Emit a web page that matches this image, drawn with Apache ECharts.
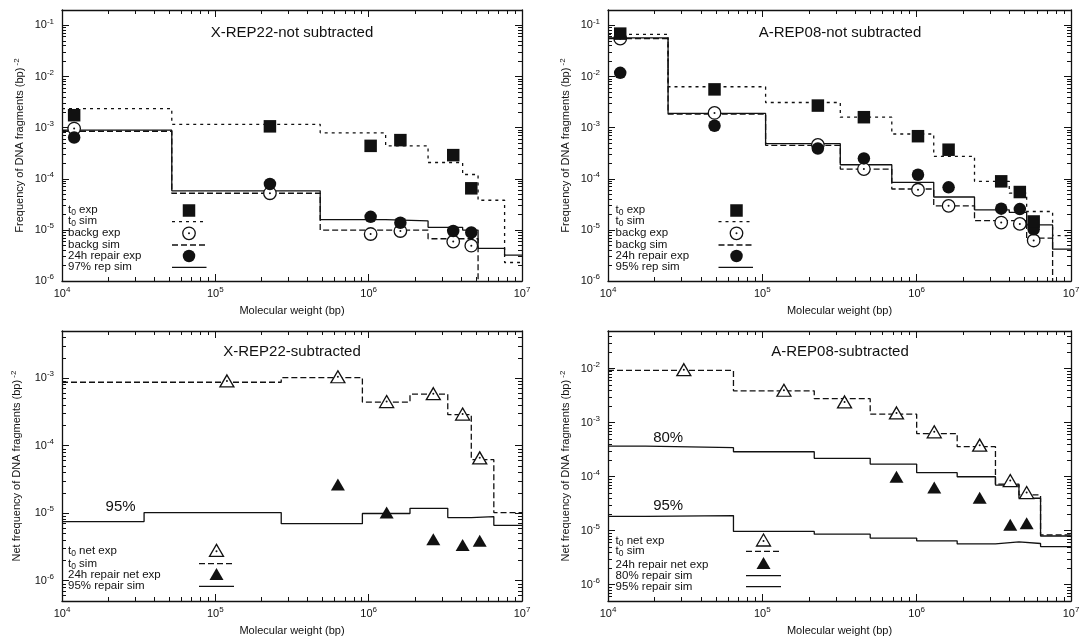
<!DOCTYPE html>
<html>
<head>
<meta charset="utf-8">
<script src="https://cdn.jsdelivr.net/npm/echarts@6/dist/echarts.min.js"></script>
<style>
  html, body { margin: 0; padding: 0; background: #ffffff; }
  #chart { width: 1083px; height: 638px; }
</style>
</head>
<body>
<div id="chart"></div>
<script>
// ---------- tick values ----------
const xMajorTicks = [1e4, 1e5, 1e6, 1e7];
const yMajorTicksTop = [1e-6, 1e-5, 1e-4, 1e-3, 1e-2, 1e-1];
const yMajorTicksBL = [1e-6, 1e-5, 1e-4, 1e-3];
const yMajorTicksBR = [1e-6, 1e-5, 1e-4, 1e-3, 1e-2];

// ---------- X-REP22, not subtracted ----------
const xrepExpX   = [1.2e4, 2.27e5, 1.03e6, 1.61e6, 3.56e6, 4.67e6];
const xrepT0Exp  = [1.75e-3, 1.06e-3, 4.4e-4, 5.7e-4, 2.9e-4, 6.5e-5];
const xrepBgExp  = [9.6e-4, 5.2e-5, 8.3e-6, 9.5e-6, 5.9e-6, 4.9e-6];
const xrepRepExp = [6.4e-4, 7.9e-5, 1.8e-5, 1.38e-5, 9.5e-6, 8.9e-6];
const xrepEdges  = [1e4, 5.2e4, 4.83e5, 1.29e6, 2.44e6, 4.1e6, 5.17e6, 7.7e6, 1e7];
const xrepT0Sim  = [2.36e-3, 1.16e-3, 7.9e-4, 4.4e-4, 2.08e-4, 1.21e-4, 3.8e-5, 2.3e-6];
const xrepBgSim  = [8.5e-4, 5.2e-5, 9.9e-6, 9.9e-6, 6.7e-6, 6.7e-6, 1e-9, 1e-9];
const xrepRepSim = [8.9e-4, 5.8e-5, 1.58e-5, 1.5e-5, 1.12e-5, 9.9e-6, 4.35e-6, 3.2e-6];

// ---------- A-REP08, not subtracted ----------
const arepExpX   = [1.2e4, 4.9e4, 2.29e5, 4.55e5, 1.02e6, 1.61e6, 3.53e6, 4.66e6, 5.73e6];
const arepT0Exp  = [6.9e-2, 5.6e-3, 2.7e-3, 1.6e-3, 6.8e-4, 3.7e-4, 8.9e-5, 5.5e-5, 1.46e-5];
const arepBgExp  = [5.5e-2, 1.94e-3, 4.6e-4, 1.55e-4, 6.1e-5, 2.95e-5, 1.39e-5, 1.31e-5, 6.2e-6];
const arepRepExp = [1.18e-2, 1.09e-3, 3.9e-4, 2.5e-4, 1.2e-4, 6.8e-5, 2.6e-5, 2.55e-5, 1.03e-5];
const arepEdges  = [1e4, 2.45e4, 1.05e5, 3.2e5, 6.9e5, 1.29e6, 2.37e6, 3.98e6, 5.16e6, 7.6e6, 1e7];
const arepT0Sim  = [6.7e-2, 6.3e-3, 3.1e-3, 1.6e-3, 7.5e-4, 2.74e-4, 8.9e-5, 5.25e-5, 2.29e-5, 7.7e-6];
const arepBgSim  = [5.5e-2, 1.85e-3, 4.5e-4, 1.55e-4, 6.3e-5, 2.95e-5, 1.52e-5, 1.52e-5, 6.9e-6, 1e-9];
const arepRepSim = [5.7e-2, 1.9e-3, 4.85e-4, 1.88e-4, 8.5e-5, 4.4e-5, 2.47e-5, 2.2e-5, 1.25e-5, 4.2e-6];

// ---------- X-REP22, subtracted ----------
const xsubExpX    = [1.19e5, 6.3e5, 1.31e6, 2.64e6, 4.1e6, 5.3e6];
const xsubT0Net   = [9.1e-4, 1.05e-3, 4.5e-4, 5.9e-4, 2.94e-4, 6.6e-5];
const xsubRepX    = [6.3e5, 1.31e6, 2.64e6, 4.1e6, 5.3e6];
const xsubRepNet  = [2.67e-5, 1.02e-5, 4.1e-6, 3.37e-6, 3.9e-6];
const xsubEdges   = [1e4, 3.43e4, 2.69e5, 9.1e5, 1.86e6, 3.28e6, 4.67e6, 6.55e6, 1e7];
const xsubT0Sim   = [8.7e-4, 8.7e-4, 1.02e-3, 4.43e-4, 5.8e-4, 2.88e-4, 6.2e-5, 1.02e-5];
const xsubRep95   = [7.5e-6, 1.02e-5, 7.0e-6, 9.9e-6, 1.18e-5, 8.6e-6, 8.9e-6, 6.6e-6];

// ---------- A-REP08, subtracted ----------
const asubExpX    = [3.1e4, 1.38e5, 3.41e5, 7.4e5, 1.3e6, 2.56e6, 4.04e6, 5.16e6];
const asubT0Net   = [9.6e-3, 4.0e-3, 2.43e-3, 1.52e-3, 6.8e-4, 3.85e-4, 8.5e-5, 5.1e-5];
const asubRepX    = [7.4e5, 1.3e6, 2.56e6, 4.04e6, 5.16e6];
const asubRepNet  = [1.0e-4, 6.3e-5, 4.1e-5, 1.29e-5, 1.38e-5];
const asubEdges   = [1e4, 1.75e4, 6.5e4, 2.17e5, 5.0e5, 1.0e6, 1.83e6, 3.24e6, 4.6e6, 6.35e6, 1e7];
const asubT0Sim   = [9.3e-3, 9.3e-3, 3.9e-3, 2.79e-3, 1.44e-3, 6.3e-4, 3.6e-4, 7.3e-5, 4.6e-5, 8.4e-6];
const asubRep80   = [3.69e-4, 3.45e-4, 2.9e-4, 2.19e-4, 1.72e-4, 1.19e-4, 1.0e-4, 7.0e-5, 4.0e-5, 8.0e-6];
const asubRep95   = [1.84e-5, 1.91e-5, 9.7e-6, 8.65e-6, 7.3e-6, 6.5e-6, 5.7e-6, 6.2e-6, 5.8e-6, 5.1e-6];

// ---------- styling ----------
const FONT = '"Liberation Sans", Arial, Helvetica, sans-serif';
const INK = '#111111';
const DOTTED = [3, 4];
const DASHED = [6, 3];

const tickRich = {
  b: { fontFamily: FONT, fontSize: 11, color: INK, lineHeight: 16, verticalAlign: 'middle' },
  e: { fontFamily: FONT, fontSize: 8, color: INK, lineHeight: 8, verticalAlign: 'top' }
};
const nameRich = {
  n: { fontFamily: FONT, fontSize: 11, color: INK, lineHeight: 14, verticalAlign: 'middle' },
  e: { fontFamily: FONT, fontSize: 8, color: INK, lineHeight: 7, verticalAlign: 'top' }
};
const legendRich = {
  n: { fontFamily: FONT, fontSize: 11.5, color: INK, fill: INK, lineHeight: 14, verticalAlign: 'middle' },
  s: { fontFamily: FONT, fontSize: 8.5, color: INK, fill: INK, lineHeight: 8, verticalAlign: 'bottom' }
};

const powLabel = v => '{b|10}{e|' + Math.round(Math.log10(v)) + '}';

// minor ticks at 2..9 of every decade inside [min, max]
function minorTicks(min, max) {
  const out = [];
  for (let d = Math.floor(Math.log10(min)); d <= Math.ceil(Math.log10(max)); d++) {
    for (let k = 2; k <= 9; k++) {
      const v = k * Math.pow(10, d);
      if (v >= min * 0.999 && v <= max * 1.001) out.push(v);
    }
  }
  return out;
}

// four axes per dimension: labelled side (major + minor ticks) and mirrored side (major + minor ticks)
function axisSet(dim, gi, min, max, majors, name, nameGap) {
  const sides = dim === 'x' ? ['bottom', 'top'] : ['left', 'right'];
  const minors = minorTicks(min, max);
  const base = {
    type: 'log', logBase: 10, min: min, max: max, gridIndex: gi, silent: true,
    splitLine: { show: false }, minorTick: { show: false }, minorSplitLine: { show: false }
  };
  const list = [];
  sides.forEach((pos, si) => {
    const major = Object.assign({}, base, {
      position: pos,
      axisLine: { show: true, onZero: false, lineStyle: { color: INK, width: 1.3 } },
      axisTick: { show: true, inside: true, length: 7, customValues: majors, lineStyle: { color: INK, width: 1 } },
      axisLabel: si === 0 ? {
        show: true, customValues: majors, formatter: powLabel, rich: tickRich,
        margin: dim === 'x' ? 5 : 8, hideOverlap: false
      } : { show: false }
    });
    if (si === 0) {
      major.name = name;
      major.nameLocation = 'middle';
      major.nameGap = nameGap;
      major.nameTextStyle = { fontFamily: FONT, fontSize: 11, color: INK, rich: nameRich };
    }
    list.push(major);
    list.push(Object.assign({}, base, {
      position: pos,
      axisLine: { show: false, onZero: false },
      axisTick: { show: true, inside: true, length: 4, customValues: minors, lineStyle: { color: INK, width: 1 } },
      axisLabel: { show: false }
    }));
  });
  return list;
}

const stepData = (edges, vals) => edges.map((e, i) => [e, vals[Math.min(i, vals.length - 1)]]);
const pairs = (xs, ys) => xs.map((x, i) => [x, ys[i]]);

function stepLine(gi, edges, vals, dash) {
  return {
    type: 'line', xAxisIndex: gi * 4, yAxisIndex: gi * 4, step: 'end', symbol: 'none',
    data: stepData(edges, vals), silent: true, clip: true, z: 2,
    lineStyle: { color: INK, width: 1.3, type: dash, opacity: 1 }
  };
}
function marks(gi, xs, ys, symbol, size, style, z) {
  return {
    type: 'scatter', xAxisIndex: gi * 4, yAxisIndex: gi * 4, symbol: symbol, symbolSize: size,
    data: pairs(xs, ys), silent: true, z: z, itemStyle: Object.assign({ opacity: 1 }, style),
    emphasis: { disabled: true }
  };
}
const SOLID_FILL = { color: INK };
const OPEN_FILL = { color: '#ffffff', borderColor: INK, borderWidth: 1.3 };
function openMarks(gi, xs, ys, symbol, size) {
  return [
    marks(gi, xs, ys, symbol, size, OPEN_FILL, 3),
    marks(gi, xs, ys, 'circle', 2, SOLID_FILL, 4)
  ];
}

// ---------- legend / annotation graphics ----------
function gText(x, y, text, size, align) {
  return {
    type: 'text', x: x, y: y, silent: true, z: 50,
    style: {
      text: text, rich: legendRich, fontFamily: FONT, fontSize: size || 11.5, fill: INK,
      align: align || 'left', verticalAlign: 'middle',
      textAlign: align || 'left', textVerticalAlign: 'middle'
    }
  };
}
const gSquare = (cx, cy) => ({ type: 'rect', silent: true, z: 50, shape: { x: cx - 6.25, y: cy - 6.25, width: 12.5, height: 12.5 }, style: { fill: INK } });
const gDisc = (cx, cy) => ({ type: 'circle', silent: true, z: 50, shape: { cx: cx, cy: cy, r: 6.25 }, style: { fill: INK } });
const gRing = (cx, cy) => [
  { type: 'circle', silent: true, z: 50, shape: { cx: cx, cy: cy, r: 6.25 }, style: { fill: '#fff', stroke: INK, lineWidth: 1.3 } },
  { type: 'circle', silent: true, z: 51, shape: { cx: cx, cy: cy, r: 1 }, style: { fill: INK } }
];
const triPts = (cx, cy) => [[cx, cy - 6], [cx - 7, cy + 6], [cx + 7, cy + 6]];
const gTriOpen = (cx, cy) => [
  { type: 'polygon', silent: true, z: 50, shape: { points: triPts(cx, cy) }, style: { fill: '#fff', stroke: INK, lineWidth: 1.3 } },
  { type: 'circle', silent: true, z: 51, shape: { cx: cx, cy: cy + 1, r: 1 }, style: { fill: INK } }
];
const gTriFull = (cx, cy) => ({ type: 'polygon', silent: true, z: 50, shape: { points: triPts(cx, cy) }, style: { fill: INK } });
const gLine = (x1, x2, y, dash) => ({
  type: 'line', silent: true, z: 50, shape: { x1: x1, y1: y, x2: x2, y2: y },
  style: { stroke: INK, lineWidth: 1.3, lineDash: dash || null }
});

const graphics = [].concat(
  // panel titles
  gText(292, 33, 'X-REP22-not subtracted', 15, 'center'),
  gText(840, 33, 'A-REP08-not subtracted', 15, 'center'),
  gText(292, 352, 'X-REP22-subtracted', 15, 'center'),
  gText(840, 352, 'A-REP08-subtracted', 15, 'center'),

  // legend, X-REP22 not subtracted
  gText(68, 210, '{n|t}{s|0}{n| exp}'), gSquare(189, 210.5),
  gText(68, 221.3, '{n|t}{s|0}{n| sim}'), gLine(172, 203, 221.7, DOTTED),
  gText(68, 232.7, 'backg exp'), gRing(189, 233.3),
  gText(68, 245, 'backg sim'), gLine(172, 206.5, 245, DASHED),
  gText(68, 256, '24h repair exp'), gDisc(189, 256),
  gText(68, 266.7, '97% rep sim'), gLine(172, 206.5, 267.3),

  // legend, A-REP08 not subtracted
  gText(615.6, 210, '{n|t}{s|0}{n| exp}'), gSquare(736.5, 210.5),
  gText(615.6, 221.3, '{n|t}{s|0}{n| sim}'), gLine(718.5, 749.6, 221.7, DOTTED),
  gText(615.6, 232.7, 'backg exp'), gRing(736.5, 233.3),
  gText(615.6, 245, 'backg sim'), gLine(718.5, 753, 245, DASHED),
  gText(615.6, 256, '24h repair exp'), gDisc(736.5, 256),
  gText(615.6, 266.7, '95% rep sim'), gLine(718.5, 753, 267.3),

  // legend, X-REP22 subtracted
  gText(68, 551.3, '{n|t}{s|0}{n| net exp}'), gTriOpen(216.5, 550.3),
  gText(68, 563.7, '{n|t}{s|0}{n| sim}'), gLine(199, 234, 563.7, DASHED),
  gText(68, 575.3, '24h repair net exp'), gTriFull(216.5, 574),
  gText(68, 586.3, '95% repair sim'), gLine(199, 234, 586.3),
  gText(120.6, 507, '95%', 15, 'center'),

  // legend, A-REP08 subtracted
  gText(615.6, 540.7, '{n|t}{s|0}{n| net exp}'), gTriOpen(763.5, 540),
  gText(615.6, 551.3, '{n|t}{s|0}{n| sim}'), gLine(746, 781, 551.3, DASHED),
  gText(615.6, 564.7, '24h repair net exp'), gTriFull(763.5, 563),
  gText(615.6, 575.7, '80% repair sim'), gLine(746, 781, 575.7),
  gText(615.6, 586.7, '95% repair sim'), gLine(746, 781, 586.7),
  gText(668.2, 438, '80%', 15, 'center'),
  gText(668.2, 506.3, '95%', 15, 'center')
);

// ---------- layout ----------
const grids = [
  { left: 62, top: 10, width: 460, height: 271 },
  { left: 608, top: 10, width: 463, height: 271 },
  { left: 62, top: 331, width: 460, height: 270 },
  { left: 608, top: 331, width: 463, height: 270 }
];

const X_NAME = 'Molecular weight (bp)';
const Y_NAME_TOP = '{n|Frequency of DNA fragments (bp)}{e| -2}';
const Y_NAME_BOTTOM = '{n|Net frequency of DNA fragments (bp)}{e| -2}';

const xAxes = [].concat(
  axisSet('x', 0, 1e4, 1e7, xMajorTicks, X_NAME, 24),
  axisSet('x', 1, 1e4, 1e7, xMajorTicks, X_NAME, 24),
  axisSet('x', 2, 1e4, 1e7, xMajorTicks, X_NAME, 24),
  axisSet('x', 3, 1e4, 1e7, xMajorTicks, X_NAME, 24)
);
const yAxes = [].concat(
  axisSet('y', 0, 1e-6, 0.2, yMajorTicksTop, Y_NAME_TOP, 35),
  axisSet('y', 1, 1e-6, 0.2, yMajorTicksTop, Y_NAME_TOP, 35),
  axisSet('y', 2, 5e-7, 5e-3, yMajorTicksBL, Y_NAME_BOTTOM, 38),
  axisSet('y', 3, 5e-7, 5e-2, yMajorTicksBR, Y_NAME_BOTTOM, 35)
);

const series = [].concat(
  // X-REP22 not subtracted
  stepLine(0, xrepEdges, xrepT0Sim, DOTTED),
  stepLine(0, xrepEdges, xrepBgSim, DASHED),
  stepLine(0, xrepEdges, xrepRepSim, 'solid'),
  openMarks(0, xrepExpX, xrepBgExp, 'circle', 12.5),
  marks(0, xrepExpX, xrepRepExp, 'circle', 12.5, SOLID_FILL, 5),
  marks(0, xrepExpX, xrepT0Exp, 'rect', 12.5, SOLID_FILL, 6),

  // A-REP08 not subtracted
  stepLine(1, arepEdges, arepT0Sim, DOTTED),
  stepLine(1, arepEdges, arepBgSim, DASHED),
  stepLine(1, arepEdges, arepRepSim, 'solid'),
  openMarks(1, arepExpX, arepBgExp, 'circle', 12.5),
  marks(1, arepExpX, arepRepExp, 'circle', 12.5, SOLID_FILL, 5),
  marks(1, arepExpX, arepT0Exp, 'rect', 12.5, SOLID_FILL, 6),

  // X-REP22 subtracted
  stepLine(2, xsubEdges, xsubT0Sim, DASHED),
  stepLine(2, xsubEdges, xsubRep95, 'solid'),
  openMarks(2, xsubExpX, xsubT0Net, 'triangle', [14, 12]),
  marks(2, xsubRepX, xsubRepNet, 'triangle', [14, 12], SOLID_FILL, 5),

  // A-REP08 subtracted
  stepLine(3, asubEdges, asubT0Sim, DASHED),
  stepLine(3, asubEdges, asubRep80, 'solid'),
  stepLine(3, asubEdges, asubRep95, 'solid'),
  openMarks(3, asubExpX, asubT0Net, 'triangle', [14, 12]),
  marks(3, asubRepX, asubRepNet, 'triangle', [14, 12], SOLID_FILL, 5)
);

const chart = echarts.init(document.getElementById('chart'), null, { renderer: 'canvas' });
chart.setOption({
  backgroundColor: '#ffffff',
  animation: false,
  textStyle: { fontFamily: FONT, color: INK },
  grid: grids,
  xAxis: xAxes,
  yAxis: yAxes,
  series: series,
  graphic: graphics
});
</script>
</body>
</html>
